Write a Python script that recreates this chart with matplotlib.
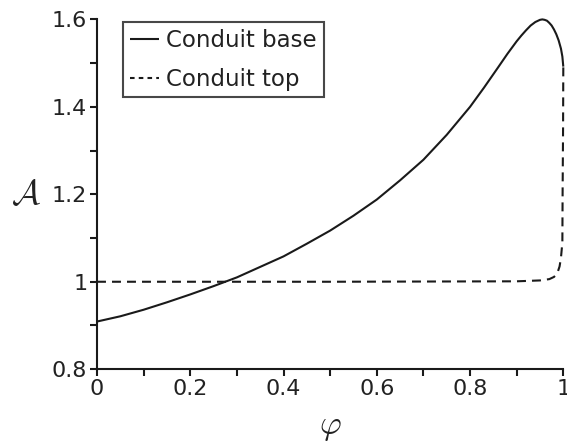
import matplotlib
matplotlib.use("Agg")
import matplotlib.pyplot as plt
from matplotlib.ticker import MultipleLocator

# --- data ---
phi_base = [0.0, 0.05, 0.1, 0.15, 0.2, 0.25, 0.3, 0.35, 0.4, 0.45, 0.5, 0.55,
            0.6, 0.65, 0.7, 0.75, 0.8, 0.83, 0.86, 0.88, 0.9, 0.91, 0.92,
            0.93, 0.94, 0.95, 0.955, 0.96, 0.965, 0.97, 0.975, 0.98, 0.985,
            0.99, 0.995, 0.998, 1.0]
a_base = [0.909, 0.921, 0.936, 0.953, 0.971, 0.990, 1.010, 1.034, 1.058,
          1.087, 1.117, 1.151, 1.188, 1.232, 1.279, 1.336, 1.400, 1.444,
          1.490, 1.521, 1.550, 1.563, 1.575, 1.586, 1.594, 1.599, 1.600,
          1.599, 1.597, 1.592, 1.586, 1.577, 1.566, 1.552, 1.533, 1.515,
          1.492]

phi_top = [0.0, 0.5, 0.9, 0.95, 0.97, 0.98, 0.987, 0.992, 0.995, 0.998,
           0.9985, 0.9995, 1.0]
a_top = [1.0, 1.0, 1.001, 1.003, 1.006, 1.011, 1.019, 1.035, 1.055, 1.09,
         1.2, 1.35, 1.492]

xticks = [0, 0.2, 0.4, 0.6, 0.8, 1]
xtick_labels = ["0", "0.2", "0.4", "0.6", "0.8", "1"]
yticks = [0.8, 1.0, 1.2, 1.4, 1.6]
ytick_labels = ["0.8", "1", "1.2", "1.4", "1.6"]

plt.rcParams['font.family'] = ['DejaVu Sans']
plt.rcParams['mathtext.fontset'] = 'cm'

fig = plt.figure(figsize=(5.67, 4.44), dpi=100)
ax = fig.add_axes([97 / 567, 1 - 369.2 / 444, (563.3 - 97) / 567, (369.2 - 19.4) / 444])

ax.plot(phi_base, a_base, color='#1a1a1a', lw=1.5, label='Conduit base',
        solid_capstyle='butt', solid_joinstyle='round', clip_on=False)
ax.plot(phi_top, a_top, color='#1a1a1a', lw=1.5, dashes=(4.3, 2.9),
        label='Conduit top', clip_on=False)

ax.set_xlim(0, 1)
ax.set_ylim(0.8, 1.6)
ax.set_xticks(xticks)
ax.set_xticklabels(xtick_labels)
ax.set_yticks(yticks)
ax.set_yticklabels(ytick_labels)
ax.xaxis.set_minor_locator(MultipleLocator(0.1))
ax.yaxis.set_minor_locator(MultipleLocator(0.1))

for s in ['top', 'right']:
    ax.spines[s].set_visible(False)
for s in ['left', 'bottom']:
    ax.spines[s].set_linewidth(1.5)
    ax.spines[s].set_color('#1a1a1a')

ax.tick_params(which='both', direction='out', length=5, width=1.5,
               color='#1a1a1a', labelsize=16, labelcolor='#222222', pad=2)

ax.set_xlabel(r'$\varphi$', fontsize=24, labelpad=8, color='#222222')
ax.set_ylabel(r'$\mathcal{A}$', fontsize=25, rotation=0, color='#222222',
              va='center')
ax.yaxis.set_label_coords(-0.152, 0.5)

leg = ax.legend(loc='upper left', bbox_to_anchor=(122.7 / 567, 1 - 21.7 / 444),
                bbox_transform=fig.transFigure, borderaxespad=0,
                fontsize=16.5, frameon=True, fancybox=False,
                handlelength=1.3, handletextpad=0.3, borderpad=0.3,
                labelspacing=0.7)
leg.get_frame().set_edgecolor('#1a1a1a')
leg.get_frame().set_linewidth(1.5)
for t in leg.get_texts():
    t.set_color('#222222')
leg.get_lines()[1].set_dashes((2.2, 2.0))

fig.savefig('out.png', dpi=100)
